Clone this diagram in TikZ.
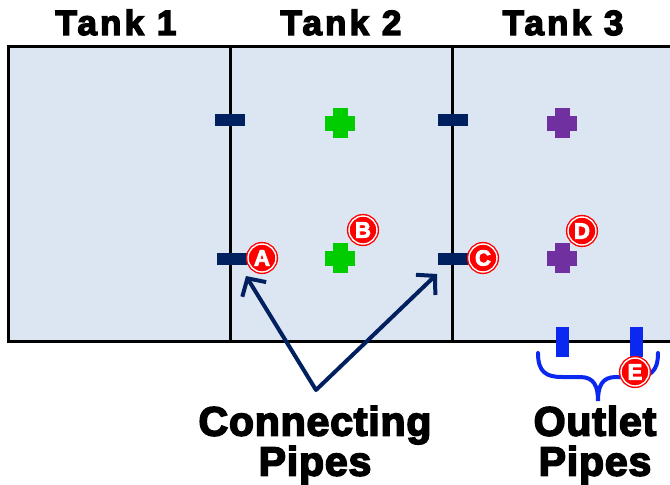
\documentclass[tikz,border=0pt]{standalone}
\usepackage{fontspec}
\setmainfont{Liberation Sans}
\newfontfamily\heavytitle{Liberation Sans Bold}[FakeBold=4, LetterSpace=9]
\newfontfamily\heavy{Liberation Sans Bold}[FakeBold=4, LetterSpace=2]
\usetikzlibrary{arrows.meta,calc}
\definecolor{tankfill}{HTML}{DCE6F2}
\definecolor{pipenavy}{HTML}{002060}
\definecolor{crossgreen}{HTML}{00CC00}
\definecolor{crosspurple}{HTML}{7030A0}
\definecolor{outletblue}{HTML}{0A28F0}
\definecolor{markred}{HTML}{FF0000}
\tikzset{
  pipebar/.style={fill=pipenavy, minimum width=30, minimum height=12, inner sep=0},
  outletbar/.style={fill=outletblue, minimum width=13, minimum height=30, inner sep=0},
  tanktitle/.style={font=\heavytitle\fontsize{35}{35}\selectfont, anchor=base},
  caption/.style={font=\heavy\fontsize{41}{40}\selectfont, align=center},
  marker/.style={circle, fill=markred, draw=markred, double=white, line width=1.4,
    double distance=1.4, minimum size=28, inner sep=0, text=white,
    font=\heavy\fontsize{22}{22}\selectfont},
  pointer/.style={draw=pipenavy, line width=4, line cap=round, line join=round,
    {Straight Barb[length=13pt, width=28pt, line width=4pt]}-{Straight Barb[length=13pt, width=28pt, line width=4pt]}},
  wall/.style={draw=black, line width=3}
}
% a plus-shaped port
\newcommand{\plusport}[3]{%
  \fill[#1] ($(#2)+(-15,-7.5)$) rectangle ($(#2)+(15,7.5)$);
  \fill[#1] ($(#2)+(-7.5,-15)$) rectangle ($(#2)+(7.5,15)$);
  \coordinate (#3) at (#2);}
\begin{document}
\begin{tikzpicture}[x=1pt, y=-1pt]
\useasboundingbox (0,0) rectangle (670,485);
\begin{scope}
\clip (0,0) rectangle (670,485);
% tanks
\fill[tankfill] (8,46) rectangle (690,341);
\draw[wall] (690,46) -- (8,46) -- (8,341) -- (690,341);
\draw[wall] (230,46) -- (230,341);
\draw[wall] (452,46) -- (452,341);
\end{scope}

% titles
\node[tanktitle] (t1) at (116,35) {Tank 1};
\node[tanktitle] (t2) at (341,35) {Tank 2};
\node[tanktitle] (t3) at (563,35) {Tank 3};

% connecting pipes
\node[pipebar] (p12top) at (230,120) {};
\node[pipebar] (p12bot) at (232,259) {};
\node[pipebar] (p23top) at (453,120) {};
\node[pipebar] (p23bot) at (453,259) {};

% ports
\plusport{crossgreen}{340,123}{g1}
\plusport{crossgreen}{340,258}{g2}
\plusport{crosspurple}{562,123}{v1}
\plusport{crosspurple}{562,258}{v2}

% outlet pipes
\node[outletbar] (o1) at (562,342) {};
\node[outletbar] (o2) at (636,342) {};

% brace under the outlets
\draw[outletblue, line width=4, line cap=round]
  (538,353) .. controls (538,372) and (546,377) .. (562,377) -- (580,377)
  .. controls (594,377) and (598,386) .. (598,401)
  .. controls (598,386) and (602,377) .. (616,377) -- (634,377)
  .. controls (650,377) and (658,372) .. (658,353);

% pointers to the connecting pipes
\coordinate (apex) at (316,390);
\coordinate (tipA) at (246,276);
\coordinate (tipC) at (437,274);
\draw[pointer] (tipA) -- (apex) -- (tipC);

% markers
\node[marker] (mA) at (262,258) {A};
\node[marker] (mB) at (363,230) {B};
\node[marker] (mC) at (483,258) {C};
\node[marker] (mD) at (582,231) {D};
\node[marker] (mE) at (635,372) {E};

% captions
\node[caption] (cap1) at (315,445) {Connecting\\Pipes};
\node[caption] (cap2) at (595,445) {Outlet\\Pipes};
\end{tikzpicture}
\end{document}
